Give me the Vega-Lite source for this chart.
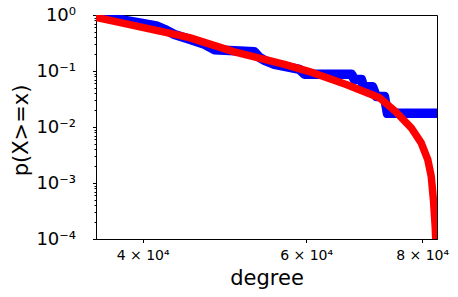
{
  "$schema": "https://vega.github.io/schema/vega-lite/v6.json",
  "width": 341,
  "height": 224,
  "autosize": {"type": "none"},
  "padding": {"left": 96, "top": 15, "right": 21, "bottom": 58},
  "background": "white",
  "config": {
    "font": "DejaVu Sans",
    "view": {"stroke": "black", "strokeWidth": 1},
    "axis": {"grid": false, "domainColor": "black", "tickColor": "black", "labelColor": "black", "titleColor": "black", "titleFontWeight": "normal", "domainWidth": 1, "tickWidth": 1}
  },
  "datasets": {
    "ccdf": [
      {"degree": 35630, "p": 1.0},
      {"degree": 35900, "p": 0.95},
      {"degree": 36700, "p": 0.93},
      {"degree": 37500, "p": 0.91},
      {"degree": 38040, "p": 0.82},
      {"degree": 39700, "p": 0.725},
      {"degree": 41380, "p": 0.64},
      {"degree": 42220, "p": 0.555},
      {"degree": 43280, "p": 0.45},
      {"degree": 44920, "p": 0.37},
      {"degree": 46630, "p": 0.30},
      {"degree": 47790, "p": 0.24},
      {"degree": 52780, "p": 0.22},
      {"degree": 53440, "p": 0.175},
      {"degree": 54120, "p": 0.155},
      {"degree": 55460, "p": 0.131},
      {"degree": 56860, "p": 0.121},
      {"degree": 59010, "p": 0.107},
      {"degree": 59750, "p": 0.0877},
      {"degree": 67140, "p": 0.0877},
      {"degree": 67640, "p": 0.0702},
      {"degree": 68820, "p": 0.0702},
      {"degree": 69160, "p": 0.0526},
      {"degree": 70720, "p": 0.0526},
      {"degree": 71420, "p": 0.0351},
      {"degree": 72860, "p": 0.0351},
      {"degree": 73400, "p": 0.01754},
      {"degree": 84000, "p": 0.01754}
    ],
    "fit": [
      {"degree": 35630, "p": 0.91},
      {"degree": 37750, "p": 0.74},
      {"degree": 39970, "p": 0.60},
      {"degree": 42220, "p": 0.494},
      {"degree": 44920, "p": 0.394},
      {"degree": 50220, "p": 0.22},
      {"degree": 53440, "p": 0.170},
      {"degree": 56860, "p": 0.131},
      {"degree": 61000, "p": 0.0933},
      {"degree": 66260, "p": 0.0576},
      {"degree": 71970, "p": 0.0333},
      {"degree": 74880, "p": 0.0189},
      {"degree": 77860, "p": 0.00968},
      {"degree": 79810, "p": 0.00522},
      {"degree": 81120, "p": 0.00262},
      {"degree": 81820, "p": 0.00132},
      {"degree": 82280, "p": 0.00049},
      {"degree": 82630, "p": 0.000168},
      {"degree": 82740, "p": 0.0001},
      {"degree": 82780, "p": 0.00001}
    ]
  },
  "layer": [
    {
      "data": {"name": "ccdf"},
      "mark": {"type": "line", "color": "#0000ff", "strokeWidth": 9.5, "strokeCap": "round", "strokeJoin": "round", "clip": true},
      "encoding": {
        "x": {"field": "degree", "type": "quantitative", "scale": {"type": "log", "domain": [35630, 83000], "nice": false},
          "axis": {"title": "degree", "titleFontSize": 21, "titleY": 45, "titleBaseline": "alphabetic", "values": [40000, 60000, 80000], "labelExpr": "format(datum.value/10000, 'd') + ' × 10⁴'", "labelFontSize": 14, "tickSize": 3.5, "labelPadding": 6}},
        "y": {"field": "p", "type": "quantitative", "scale": {"type": "log", "domain": [0.0001, 1], "nice": false},
          "axis": {"title": null, "values": [0.0002,0.0003,0.0004,0.0005,0.0006,0.0007,0.0008,0.0009,0.002,0.003,0.004,0.005,0.006,0.007,0.008,0.009,0.02,0.03,0.04,0.05,0.06,0.07,0.08,0.09,0.2,0.3,0.4,0.5,0.6,0.7,0.8,0.9], "labels": false, "tickSize": 2, "domain": false, "orient": "left"}}
      }
    },
    {
      "data": {"name": "fit"},
      "mark": {"type": "line", "color": "#ff0000", "strokeWidth": 7.5, "strokeCap": "round", "strokeJoin": "round", "clip": true},
      "encoding": {
        "x": {"field": "degree", "type": "quantitative", "scale": {"type": "log", "domain": [35630, 83000], "nice": false}},
        "y": {"field": "p", "type": "quantitative", "scale": {"type": "log", "domain": [0.0001, 1], "nice": false},
          "axis": {"title": "p(X>=x)", "titleFontSize": 21, "titleX": -69, "titleY": 115, "titleBaseline": "alphabetic", "titleAngle": -90, "values": [0.0001, 0.001, 0.01, 0.1, 1], "labelExpr": "datum.value >= 0.5 ? '10⁰' : datum.value >= 0.05 ? '10⁻¹' : datum.value >= 0.005 ? '10⁻²' : datum.value >= 0.0005 ? '10⁻³' : '10⁻⁴'", "labelFontSize": 18, "tickSize": 3.5, "labelPadding": 17, "orient": "left"}}
      }
    }
  ],
  "resolve": {"axis": {"y": "independent"}}
}
